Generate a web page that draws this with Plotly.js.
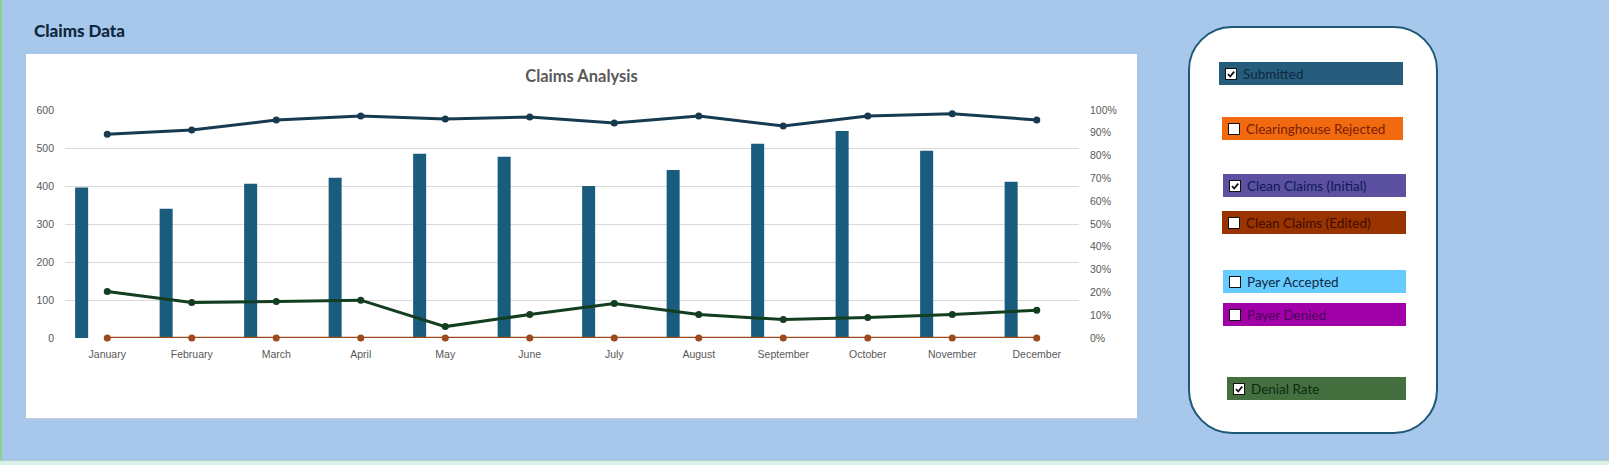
<!DOCTYPE html>
<html>
<head>
<meta charset="utf-8">
<script src="https://cdn.plot.ly/plotly-3.0.1.min.js"></script>
<style>
  html, body { margin: 0; padding: 0; }
  body { width: 1609px; height: 465px; background: #A8C8EB; position: relative; overflow: hidden; font-family: Lato, "Liberation Sans", sans-serif; }
  #leftEdge { position: absolute; left: 0; top: 0; width: 2px; height: 465px; background: #86d48f; }
  #bottomStrip { position: absolute; left: 0; top: 460px; width: 1609px; height: 5px; background: #d7f1e6; border-top: 1px solid #b7c9cf; }
  #pageTitle { position: absolute; left: 34px; top: 20px; font-size: 17px; font-weight: 900; color: #0E2841; }
  #chartBox { position: absolute; left: 26px; top: 54px; width: 1111px; height: 364px; background: #fff; box-shadow: 0 1px 0 #c3cbd3; }
  #chart { width: 1111px; height: 364px; }
  #panel { position: absolute; left: 1188px; top: 26px; width: 250px; height: 408px; background: #fff; border: 2px solid #1F5878; border-radius: 44px; box-sizing: border-box; }
  .item { position: absolute; height: 23px; display: flex; align-items: center; font-size: 13.5px; box-sizing: border-box; }
  .cb { width: 10px; height: 10px; background: #fff; border: 1px solid #111; margin-right: 6px; flex: none; position: relative; }
  .cb svg { position: absolute; left: 0; top: 0; }
</style>
</head>
<body>
<div id="leftEdge"></div>
<div id="bottomStrip"></div>
<div id="pageTitle">Claims Data</div>
<div id="chartBox"><div id="chart"></div></div>
<div id="panel"></div>
<script>
// ---- data ----
const months = ["January","February","March","April","May","June","July","August","September","October","November","December"];
const submitted = [396, 340, 406, 422, 485, 477, 400, 442, 511, 545, 493, 411];
const cleanClaimsInitialRate = [0.894, 0.912, 0.956, 0.974, 0.960, 0.969, 0.943, 0.974, 0.930, 0.974, 0.984, 0.956];
const denialRate = [0.204, 0.156, 0.160, 0.166, 0.050, 0.103, 0.151, 0.103, 0.081, 0.090, 0.103, 0.122];
const zeroSeries = [0,0,0,0,0,0,0,0,0,0,0,0];
const leftTicks = [0, 100, 200, 300, 400, 500, 600];
const rightTicks = [0, 0.1, 0.2, 0.3, 0.4, 0.5, 0.6, 0.7, 0.8, 0.9, 1.0];

const legendItems = [
  {label: "Submitted", checked: true, bg: "#275D7C", fg: "#0E2841", left: 29, top: 34, width: 184},
  {label: "Clearinghouse Rejected", checked: false, bg: "#F26A10", fg: "#7A1E05", left: 32, top: 89, width: 181},
  {label: "Clean Claims (Initial)", checked: true, bg: "#5B51A0", fg: "#0E1A5A", left: 33, top: 146, width: 183},
  {label: "Clean Claims (Edited)", checked: false, bg: "#993300", fg: "#3E0C00", left: 32, top: 183, width: 184},
  {label: "Payer Accepted", checked: false, bg: "#66CCFF", fg: "#0E2841", left: 33, top: 242, width: 183},
  {label: "Payer Denied", checked: false, bg: "#A100A8", fg: "#4A0058", left: 33, top: 275, width: 183},
  {label: "Denial Rate", checked: true, bg: "#44703F", fg: "#0E2A10", left: 37, top: 349, width: 179}
];

// ---- legend panel ----
const panel = document.getElementById('panel');
legendItems.forEach(it => {
  const d = document.createElement('div');
  d.className = 'item';
  d.style.left = it.left + 'px';
  d.style.top = it.top + 'px';
  d.style.width = it.width + 'px';
  d.style.background = it.bg;
  d.style.color = it.fg;
  d.style.paddingLeft = '6px';
  const cb = document.createElement('span');
  cb.className = 'cb';
  if (it.checked) {
    cb.innerHTML = '<svg width="10" height="10" viewBox="0 0 10 10"><path d="M2 5.2 L4.2 7.5 L8.2 2.6" stroke="#111" stroke-width="1.8" fill="none"/></svg>';
  }
  d.appendChild(cb);
  const t = document.createElement('span');
  t.textContent = it.label;
  d.appendChild(t);
  panel.appendChild(d);
});

// ---- chart ----
const tickFont = {family: "Liberation Sans, Arial, sans-serif", size: 10.5, color: "#595959"};
const traces = [
  {type: 'bar', x: months, y: submitted, name: 'Submitted', marker: {color: '#1A5C7E'}, offset: -0.38, width: 0.154, yaxis: 'y'},
  {type: 'scatter', mode: 'lines+markers', x: months, y: zeroSeries, name: 'Zero', cliponaxis: false, line: {color: '#9C4A1C', width: 2.5}, marker: {color: '#9C4A1C', size: 7}, yaxis: 'y'},
  {type: 'scatter', mode: 'lines+markers', x: months, y: cleanClaimsInitialRate, name: 'Clean Claims (Initial)', cliponaxis: false, line: {color: '#163A50', width: 3}, marker: {color: '#163A50', size: 7}, yaxis: 'y2'},
  {type: 'scatter', mode: 'lines+markers', x: months, y: denialRate, name: 'Denial Rate', cliponaxis: false, line: {color: '#133D1F', width: 3}, marker: {color: '#133D1F', size: 7}, yaxis: 'y2'}
];
const layout = {
  width: 1111, height: 364,
  margin: {l: 39, r: 58, t: 56, b: 80},
  paper_bgcolor: '#ffffff', plot_bgcolor: '#ffffff',
  showlegend: false,
  title: {text: 'Claims Analysis', x: 0.5, xref: 'container', y: 1 - 22.7/364, yref: 'container', yanchor: 'middle', xanchor: 'center',
          font: {family: 'Lato, sans-serif', size: 16.5, color: '#595959', weight: 700}},
  xaxis: {type: 'category', range: [-0.5, 11.5], showgrid: false, zeroline: false, showline: false, ticks: '', tickfont: tickFont, ticklabelstandoff: 8, fixedrange: true},
  yaxis: {range: [0, 600], tickvals: leftTicks, showgrid: true, gridcolor: '#d9d9d9', gridwidth: 1, zeroline: false, showline: false, ticks: '', tickfont: tickFont, ticklabelstandoff: 10},
  yaxis2: {range: [0, 1], overlaying: 'y', side: 'right', tickvals: rightTicks, tickformat: '.0%', showgrid: false, zeroline: false, showline: false, ticks: '', tickfont: tickFont, ticklabelstandoff: 10}
};
Plotly.newPlot('chart', traces, layout, {staticPlot: true, displayModeBar: false});
</script>
</body>
</html>
